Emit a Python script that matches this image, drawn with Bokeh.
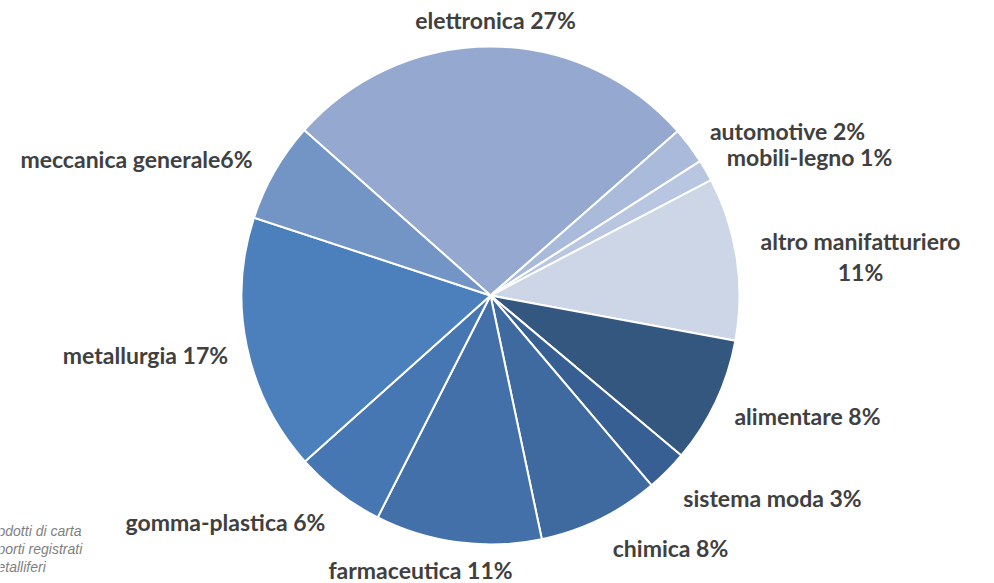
import math
from bokeh.plotting import figure
from bokeh.models import Range1d, ColumnDataSource
from bokeh.core.properties import value
from bokeh.embed import file_html
from bokeh.resources import INLINE

# ---- data ----
sectors = ["elettronica", "automotive", "mobili-legno", "altro manifatturiero",
           "alimentare", "sistema moda", "chimica", "farmaceutica",
           "gomma-plastica", "metallurgia", "meccanica generale"]
shares = [27.0, 2.4, 1.4, 10.6, 8.2, 2.7, 7.9, 10.8, 5.9, 16.7, 6.5]
labels = ["elettronica 27%", "automotive 2%", "mobili-legno 1%",
          "altro manifatturiero\n11%", "alimentare 8%", "sistema moda 3%",
          "chimica 8%", "farmaceutica 11%", "gomma-plastica 6%",
          "metallurgia 17%", "meccanica generale6%"]
note_lines = ["odotti di carta", "porti registrati", "etalliferi"]

# ---- style / layout ----
colors = ["#95A9D0", "#A9BADB", "#B9C6E1", "#CDD6E7", "#33577F", "#375F93",
          "#3E6AA0", "#4470AA", "#4677B2", "#4C80BC", "#7395C5"]
W, H = 994, 583
cx_pg, cy_pg, R = 490, 295, 249
start_clock = -48.4  # degrees clockwise from 12 o'clock where first slice starts
label_pos = [(495, 19), (787, 130), (809, 156), (860, 255), (807, 415),
             (772, 497), (670, 547), (420, 569), (225, 521), (145, 354),
             (136, 158)]
note_pos = [(-3, 530), (-3, 548), (-3, 566)]

def fx(px):
    return px

def fy(py):
    return H - py

p = figure(width=W, height=H, output_backend="svg", toolbar_location=None,
           x_range=Range1d(0, W), y_range=Range1d(0, H), min_border=0)
p.axis.visible = False
p.grid.visible = False
p.outline_line_color = None
p.background_fill_color = "white"

total = sum(shares)
starts, ends = [], []
acc = start_clock
for s in shares:
    a0 = acc
    a1 = acc + s / total * 360.0
    starts.append(math.radians(90 - a0))
    ends.append(math.radians(90 - a1))
    acc = a1

src = ColumnDataSource(dict(start=starts, end=ends, color=colors, name=sectors))
p.wedge(x=fx(cx_pg), y=fy(cy_pg), radius=R, start_angle="start", end_angle="end",
        direction="clock", fill_color="color", line_color="white", line_width=2,
        source=src)

lx, ly, lt = [], [], []
for (x, y), t in zip(label_pos, labels):
    parts = t.split("\n")
    if len(parts) == 1:
        lx.append(fx(x)); ly.append(fy(y)); lt.append(t)
    else:
        for i, part in enumerate(parts):
            lx.append(fx(x)); ly.append(fy(y - 15 + 31 * i)); lt.append(part)
p.text(x=lx, y=ly, text=lt, text_font=value("Lato"), text_font_style="bold",
       text_font_size="23px", text_color="#404040", text_align="center",
       text_baseline="middle")

p.text(x=[fx(x) for x, y in note_pos], y=[fy(y) for x, y in note_pos],
       text=note_lines, text_font=value("Liberation Sans"), text_font_style="italic",
       text_font_size="14px", text_color="#7F7F7F", text_align="left",
       text_baseline="middle")

open("out.html", "w").write(file_html(p, INLINE))
